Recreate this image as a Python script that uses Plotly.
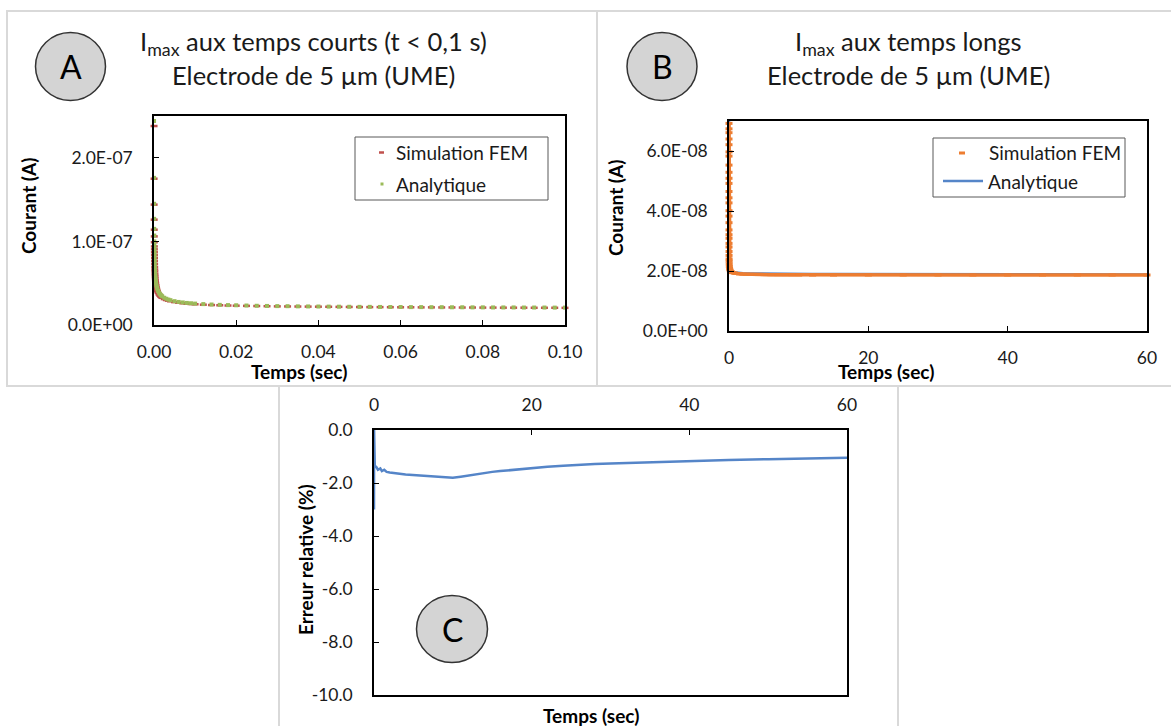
import plotly.graph_objects as go

W, H = 1171, 726
FONT = "Lato"
TXT = "#1a1a1a"

# ---------------- Panel A : short times (t in s, current in 1e-7 A) ----------------
t_A = [1e-5, 2e-5, 3e-5, 4e-5, 5e-5, 6e-5, 7e-5, 8e-5, 9e-5, 1.0e-4,
       1.1e-4, 1.2e-4, 1.35e-4, 1.5e-4, 1.7e-4, 1.9e-4, 2.1e-4, 2.4e-4, 2.7e-4, 3.0e-4,
       3.4e-4, 3.8e-4, 4.3e-4, 4.9e-4, 5.6e-4, 6.4e-4, 7.3e-4, 8.4e-4, 1e-3,
       0.0012, 0.0014, 0.0016, 0.0018, 0.002, 0.0025, 0.003, 0.0035, 0.004, 0.005,
       0.006, 0.007, 0.008, 0.009, 0.010, 0.012, 0.014, 0.016, 0.018, 0.020,
       0.0225, 0.025, 0.0275, 0.030, 0.0325, 0.035, 0.0375, 0.040, 0.0425, 0.045,
       0.0475, 0.050, 0.0525, 0.055, 0.0575, 0.060, 0.0625, 0.065, 0.0675, 0.070,
       0.0725, 0.075, 0.0775, 0.080, 0.0825, 0.085, 0.0875, 0.090, 0.0925, 0.095,
       0.0975, 0.100]
i_A_fem = [2.38, 1.75, 1.44, 1.26, 1.14, 1.06, 0.99, 0.94, 0.905, 0.87,
           0.835, 0.80, 0.765, 0.73, 0.695, 0.665, 0.64, 0.61, 0.585, 0.56,
           0.535, 0.515, 0.495, 0.474, 0.455, 0.437, 0.42, 0.403, 0.384,
           0.366, 0.352, 0.341, 0.332, 0.325, 0.310, 0.299, 0.291, 0.284, 0.274,
           0.266, 0.260, 0.255, 0.251, 0.248, 0.243, 0.239, 0.236, 0.233, 0.231,
           0.229, 0.227, 0.225, 0.223, 0.222, 0.221, 0.220, 0.219, 0.218, 0.217,
           0.216, 0.215, 0.214, 0.214, 0.213, 0.212, 0.212, 0.211, 0.211, 0.210,
           0.210, 0.209, 0.209, 0.208, 0.208, 0.207, 0.207, 0.207, 0.206, 0.206,
           0.206, 0.205]
i_A_ana = [2.44, 1.76, 1.45, 1.27, 1.15, 1.07, 1.00, 0.955, 0.924, 0.886,
           0.853, 0.825, 0.788, 0.758, 0.723, 0.694, 0.669, 0.638, 0.612, 0.590,
           0.566, 0.545, 0.524, 0.502, 0.482, 0.463, 0.445, 0.428, 0.407,
           0.388, 0.373, 0.361, 0.351, 0.343, 0.326, 0.314, 0.304, 0.297, 0.285,
           0.276, 0.270, 0.264, 0.260, 0.256, 0.250, 0.245, 0.241, 0.238, 0.236,
           0.233, 0.230, 0.228, 0.226, 0.225, 0.223, 0.222, 0.221, 0.220, 0.219,
           0.218, 0.217, 0.217, 0.216, 0.215, 0.215, 0.214, 0.214, 0.213, 0.213,
           0.212, 0.212, 0.211, 0.211, 0.210, 0.210, 0.210, 0.209, 0.209, 0.209,
           0.208, 0.208]

# ---------------- Panel B : long times (t in s, current in 1e-8 A) ----------------
t_B_fem = [0.000185, 0.0002, 0.00021, 0.00023, 0.00025, 0.00028, 0.0003, 0.00035, 0.0004, 0.00045,
           0.0005, 0.0006, 0.0007, 0.0008, 0.001, 0.0012, 0.0015, 0.002, 0.0025, 0.003,
           0.004, 0.005, 0.007, 0.01, 0.015, 0.02, 0.03, 0.05, 0.08, 0.12,
           0.2, 0.3, 0.5, 0.75, 1, 1.5, 2, 2.5, 3, 4,
           5, 6, 7, 8, 9, 10, 12, 15, 20, 25,
           30, 35, 40, 45, 50, 55, 60]
i_B_fem = [6.92, 6.74, 6.61, 6.40, 6.21, 5.97, 5.83, 5.53, 5.29, 5.09,
           4.92, 4.65, 4.44, 4.27, 4.01, 3.83, 3.61, 3.37, 3.21, 3.09,
           2.92, 2.80, 2.65, 2.52, 2.40, 2.33, 2.24, 2.15, 2.09, 2.04,
           2.00, 1.979, 1.947, 1.931, 1.918, 1.904, 1.897, 1.891, 1.887, 1.881,
           1.877, 1.874, 1.871, 1.870, 1.868, 1.867, 1.866, 1.866, 1.867, 1.867,
           1.867, 1.867, 1.867, 1.867, 1.867, 1.867, 1.867]
t_B_ana = [0.000185, 0.001, 0.01, 0.05, 0.1, 0.2, 0.3, 0.5, 0.75, 1,
           1.5, 2, 3, 4, 5, 6, 8, 10, 12, 15,
           20, 25, 30, 35, 40, 45, 50, 55, 60]
i_B_ana = [7.02, 4.09, 2.578, 2.191, 2.099, 2.035, 2.006, 1.977, 1.959, 1.948,
           1.935, 1.928, 1.918, 1.913, 1.909, 1.907, 1.903, 1.900, 1.898, 1.896,
           1.894, 1.892, 1.891, 1.890, 1.889, 1.888, 1.888, 1.887, 1.887]

# ---------------- Panel C : relative error (%) ----------------
t_C = [0, 0.01, 0.05, 0.1, 0.3, 0.5, 0.8, 1.0, 1.3, 1.6,
       2, 2.5, 3, 4, 5, 6, 7, 8, 9, 10,
       11, 12, 13, 14, 15, 16, 18, 20, 22, 24,
       26, 28, 30, 35, 40, 45, 50, 55, 60]
err_C = [-3.0, 0.0, -1.3, -1.35, -1.4, -1.5, -1.45, -1.55, -1.5, -1.58,
         -1.6, -1.63, -1.64, -1.68, -1.70, -1.72, -1.74, -1.76, -1.78, -1.80,
         -1.76, -1.71, -1.66, -1.62, -1.58, -1.55, -1.49, -1.44, -1.39, -1.35,
         -1.31, -1.28, -1.26, -1.21, -1.17, -1.13, -1.10, -1.08, -1.05]

# ---------------- tick labels ----------------
A_xticks = [0, 0.02, 0.04, 0.06, 0.08, 0.10]
A_xlabels = ["0.00", "0.02", "0.04", "0.06", "0.08", "0.10"]
A_yticks = [0, 1e-7, 2e-7]
A_ylabels = ["0.0E+00", "1.0E-07", "2.0E-07"]
B_xticks = [0, 20, 40, 60]
B_xlabels = ["0", "20", "40", "60"]
B_yticks = [0, 2e-8, 4e-8, 6e-8]
B_ylabels = ["0.0E+00", "2.0E-08", "4.0E-08", "6.0E-08"]
C_xticks = [0, 20, 40, 60]
C_xlabels = ["0", "20", "40", "60"]
C_yticks = [0, -2, -4, -6, -8, -10]
C_ylabels = ["0.0", "-2.0", "-4.0", "-6.0", "-8.0", "-10.0"]

RED = "#C0504D"
GREEN = "#9BBB59"
ORANGE = "#ED7D31"
BLUE = "#5585C8"


def px(x):
    return x / W


def py(y):
    return 1 - y / H


fig = go.Figure()

# Panel A traces
fig.add_trace(go.Scatter(x=t_A, y=[v * 1e-7 for v in i_A_fem], mode="markers",
                         name="Simulation FEM", showlegend=False, cliponaxis=False,
                         marker=dict(symbol="line-ew", size=5, line=dict(width=2.5, color=RED)),
                         xaxis="x", yaxis="y"))
fig.add_trace(go.Scatter(x=t_A, y=[v * 1e-7 for v in i_A_ana], mode="markers",
                         name="Analytique", showlegend=False, cliponaxis=False,
                         marker=dict(symbol="square", size=4, color=GREEN, line=dict(width=0)),
                         xaxis="x", yaxis="y"))

# Panel B traces
fig.add_trace(go.Scatter(x=t_B_ana, y=[v * 1e-8 for v in i_B_ana], mode="lines",
                         name="Analytique", showlegend=False,
                         line=dict(color=BLUE, width=2.5),
                         xaxis="x2", yaxis="y2"))
fig.add_trace(go.Scatter(x=t_B_fem, y=[v * 1e-8 for v in i_B_fem], mode="lines+markers",
                         name="Simulation FEM", showlegend=False, cliponaxis=False,
                         line=dict(color=ORANGE, width=3.5),
                         marker=dict(symbol="line-ew", size=5, line=dict(width=3, color=ORANGE)),
                         xaxis="x2", yaxis="y2"))

# Panel C trace
fig.add_trace(go.Scatter(x=t_C, y=err_C, mode="lines", name="Erreur relative",
                         showlegend=False, line=dict(color=BLUE, width=2.5),
                         xaxis="x3", yaxis="y3"))

tickfont = dict(family=FONT, size=17.5, color=TXT)
common = dict(showline=True, linecolor="black", linewidth=1.5, mirror=True,
              ticks="inside", ticklen=5, tickwidth=1.3, tickcolor="black",
              showgrid=False, zeroline=False, tickfont=tickfont, tickmode="array",
              automargin=False)

fig.update_layout(
    width=W, height=H,
    margin=dict(l=0, r=0, t=0, b=0, autoexpand=False),
    paper_bgcolor="white", plot_bgcolor="white",
    showlegend=False,
    xaxis=dict(domain=[px(154), px(565)], range=[0, 0.1], anchor="y",
               tickvals=A_xticks, ticktext=A_xlabels, ticklabelstandoff=10, **common),
    yaxis=dict(domain=[py(325), py(116)], range=[0, 2.5e-7], anchor="x",
               tickvals=A_yticks, ticktext=A_ylabels, ticklabelstandoff=16, **common),
    xaxis2=dict(domain=[px(729), px(1147)], range=[0, 60], anchor="y2",
                tickvals=B_xticks, ticktext=B_xlabels, ticklabelstandoff=10, **common),
    yaxis2=dict(domain=[py(331), py(121)], range=[0, 7e-8], anchor="x2",
                tickvals=B_yticks, ticktext=B_ylabels, ticklabelstandoff=16, **common),
    xaxis3=dict(domain=[px(374), px(847)], range=[0, 60], anchor="y3", side="top",
                tickvals=C_xticks, ticktext=C_xlabels, ticklabelstandoff=10, **common),
    yaxis3=dict(domain=[py(695), py(430)], range=[-10, 0], anchor="x3",
                tickvals=C_yticks, ticktext=C_ylabels, ticklabelstandoff=16, **common),
)

shapes = []
FRAME = "#D9D9D9"
# panel frames
shapes.append(dict(type="rect", xref="paper", yref="paper", x0=px(7), x1=px(597), y0=py(386), y1=py(11),
                   line=dict(color=FRAME, width=2), layer="below"))
shapes.append(dict(type="rect", xref="paper", yref="paper", x0=px(597), x1=px(1175), y0=py(386), y1=py(11),
                   line=dict(color=FRAME, width=2), layer="below"))
shapes.append(dict(type="rect", xref="paper", yref="paper", x0=px(279), x1=px(898), y0=py(730), y1=py(386),
                   line=dict(color=FRAME, width=2), layer="below"))

# circles with letters
for cx, cy, rx, ry in [(70.5, 66.5, 35, 34), (662, 66.5, 35, 34), (452, 629, 35.5, 33.5)]:
    shapes.append(dict(type="circle", xref="paper", yref="paper",
                       x0=px(cx - rx), x1=px(cx + rx), y0=py(cy + ry), y1=py(cy - ry),
                       fillcolor="#D4D4D4", line=dict(color="#333333", width=1.5)))

# manual legend A
shapes.append(dict(type="rect", xref="paper", yref="paper", x0=px(355), x1=px(548), y0=py(200), y1=py(137),
                   fillcolor="white", line=dict(color="#595959", width=1)))
shapes.append(dict(type="line", xref="paper", yref="paper", x0=px(379), x1=px(384), y0=py(152.5), y1=py(152.5),
                   line=dict(color=RED, width=2.5)))
shapes.append(dict(type="rect", xref="paper", yref="paper", x0=px(380.5), x1=px(383.5), y0=py(185.5), y1=py(182.5),
                   fillcolor=GREEN, line=dict(width=0)))
# manual legend B
shapes.append(dict(type="rect", xref="paper", yref="paper", x0=px(933), x1=px(1125), y0=py(197), y1=py(138),
                   fillcolor="white", line=dict(color="#595959", width=1)))
shapes.append(dict(type="line", xref="paper", yref="paper", x0=px(959), x1=px(965), y0=py(153), y1=py(153),
                   line=dict(color=ORANGE, width=3)))
shapes.append(dict(type="line", xref="paper", yref="paper", x0=px(943), x1=px(983), y0=py(181), y1=py(181),
                   line=dict(color=BLUE, width=2.5)))
fig.update_layout(shapes=shapes)

ann = []


def add_text(text, x, y, size, bold=False, angle=0, xanchor="center", color=TXT):
    ann.append(dict(text=("<b>%s</b>" % text) if bold else text, x=px(x), y=py(y),
                    xref="paper", yref="paper", showarrow=False, xanchor=xanchor, yanchor="middle",
                    textangle=angle, font=dict(family=FONT, size=size, color=color)))


# titles
add_text("I<sub>max</sub> aux temps courts (t &lt; 0,1 s)", 313, 43, 25.5)
add_text("Electrode de 5 µm (UME)", 313, 75, 25.5)
add_text("I<sub>max</sub> aux temps longs", 908, 43, 25.5)
add_text("Electrode de 5 µm (UME)", 908, 75, 25.5)
# circle letters
add_text("A", 70.5, 66.5, 32, color="black")
add_text("B", 662, 66.5, 32, color="black")
add_text("C", 452, 629, 32, color="black")
# axis titles
add_text("Courant (A)", 29, 206, 19, bold=True, angle=-90, color="black")
add_text("Temps (sec)", 299, 371, 19, bold=True, color="black")
add_text("Courant (A)", 615, 207, 19, bold=True, angle=-90, color="black")
add_text("Temps (sec)", 886, 372, 19, bold=True, color="black")
add_text("Erreur relative (%)", 305, 560, 19, bold=True, angle=-90, color="black")
add_text("Temps (sec)", 591, 715, 19, bold=True, color="black")
# legend texts
add_text("Simulation FEM", 394, 152.5, 19, xanchor="left")
add_text("Analytique", 394, 184, 19, xanchor="left")
add_text("Simulation FEM", 987, 153, 19, xanchor="left")
add_text("Analytique", 986, 181, 19, xanchor="left")
fig.update_layout(annotations=ann)

fig.write_html("out.html", config={"displayModeBar": False},
               post_script="document.body.style.margin='0px';")
